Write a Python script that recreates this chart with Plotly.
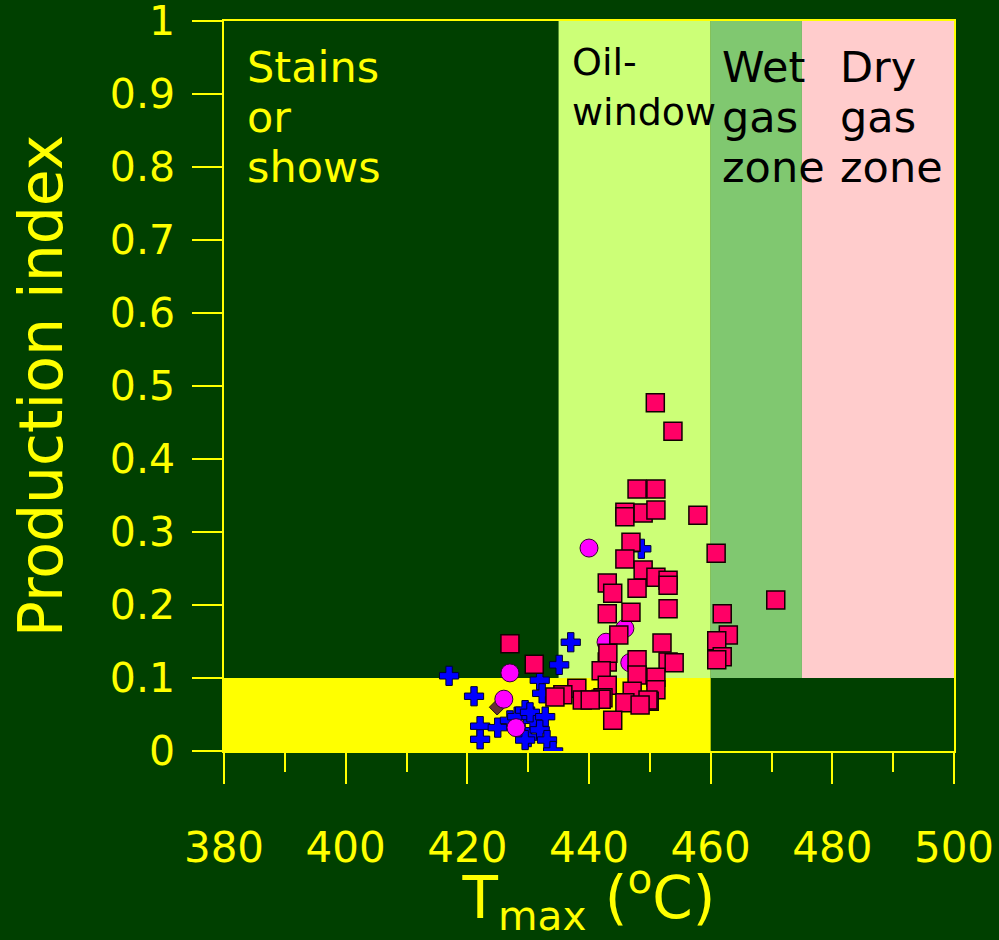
import plotly.graph_objects as go

# Tmax (degC) / production index
sq_tmax = [450.9, 453.8, 447.9, 451.0, 445.9, 445.9, 448.9, 451.0, 457.9, 446.9,
           460.9, 445.9, 448.9, 451.0, 453.0, 453.0, 443.0, 447.9, 443.9, 470.7,
           453.0, 443.0, 446.9, 461.9, 462.9, 461.0, 444.9, 452.0, 461.9, 461.0,
           453.0, 454.0, 447.9, 443.0, 443.1, 442.0, 447.9, 451.0, 451.0, 443.0,
           447.1, 449.9, 445.9, 443.9, 442.3, 438.0, 435.7, 438.9, 442.0, 449.7,
           434.4, 427.0, 431.0, 440.2, 448.4]
sq_pi = [0.477, 0.438, 0.359, 0.359, 0.327, 0.321, 0.326, 0.330, 0.323, 0.286,
         0.271, 0.263, 0.248, 0.238, 0.234, 0.227, 0.230, 0.223, 0.216, 0.207,
         0.195, 0.188, 0.190, 0.188, 0.159, 0.151, 0.159, 0.148, 0.129, 0.125,
         0.122, 0.121, 0.125, 0.122, 0.134, 0.110, 0.104, 0.101, 0.084, 0.090,
         0.082, 0.068, 0.066, 0.042, 0.073, 0.086, 0.077, 0.070, 0.071, 0.070,
         0.074, 0.147, 0.119, 0.070, 0.063]

circ_tmax = [440.0, 442.8, 445.9, 446.7, 427.0, 426.0, 428.0]
circ_pi = [0.278, 0.149, 0.168, 0.121, 0.107, 0.071, 0.032]

cross_tmax = [417.0, 421.1, 422.1, 422.1, 425.0, 427.0, 428.2, 429.0, 430.0, 430.8,
              429.5, 430.3, 431.9, 432.3, 432.8, 431.9, 433.1, 434.1, 435.1, 437.0,
              429.5, 448.6]
cross_pi = [0.103, 0.075, 0.034, 0.016, 0.032, 0.042, 0.047, 0.026, 0.019, 0.042,
            0.056, 0.053, 0.097, 0.079, 0.047, 0.029, 0.015, 0.0, 0.118, 0.149,
            0.015, 0.277]

dia_tmax = [424.9]
dia_pi = [0.060]

# maturity zones: edges in Tmax, PI threshold
zone_edges = [380, 435, 460, 475, 500]
zone_colors = ["#004000", "#CCFF77", "#80C870", "#FFCCCC"]
pi_cut = 0.1

y_ticks = [0, 0.1, 0.2, 0.3, 0.4, 0.5, 0.6, 0.7, 0.8, 0.9, 1]
x_ticks = [380, 400, 420, 440, 460, 480, 500]

bg = "#004000"
yellow = "#FFFF00"

fig = go.Figure()

fig.add_trace(go.Scatter(x=dia_tmax, y=dia_pi, mode="markers",
                         marker=dict(symbol="diamond", size=12, color="#663333",
                                     line=dict(color="#221111", width=1))))
fig.add_trace(go.Scatter(x=cross_tmax, y=cross_pi, mode="markers",
                         marker=dict(symbol="cross", size=16, color="#0000FF",
                                     line=dict(color="#000033", width=1))))
fig.add_trace(go.Scatter(x=circ_tmax, y=circ_pi, mode="markers",
                         marker=dict(symbol="circle", size=18, color="#FF00FF",
                                     line=dict(color="#330033", width=1))))
fig.add_trace(go.Scatter(x=sq_tmax, y=sq_pi, mode="markers",
                         marker=dict(symbol="square", size=18, color="#FF0066",
                                     line=dict(color="#110000", width=1.5))))

# background zones
for i in range(len(zone_colors)):
    fig.add_shape(type="rect", layer="below", line_width=0,
                  x0=zone_edges[i], x1=zone_edges[i + 1], y0=pi_cut, y1=1,
                  fillcolor=zone_colors[i])
fig.add_shape(type="rect", layer="below", line_width=0,
              x0=zone_edges[0], x1=zone_edges[2], y0=0, y1=pi_cut,
              fillcolor=yellow)

# zone labels
labels = [
    (383.4, ["Stains", "or", "shows"], yellow, 43),
    (436.9, ["Oil-", "window"], "black", 38),
    (461.5, ["Wet", "gas", "zone"], "black", 43),
    (480.9, ["Dry", "gas", "zone"], "black", 43),
]
line_y = [0.937, 0.868, 0.800]
for x, lines, col, sz in labels:
    for j, t in enumerate(lines):
        ly = line_y[j] if len(lines) == 3 else [0.944, 0.875][j]
        fig.add_annotation(x=x, y=ly, text=t, showarrow=False,
                           xanchor="left", yanchor="middle",
                           font=dict(size=sz, color=col, family="DejaVu Sans"))

fig.update_layout(
    width=999, height=940,
    paper_bgcolor=bg, plot_bgcolor=bg,
    showlegend=False,
    font=dict(family="DejaVu Sans", color=yellow),
    margin=dict(l=224, r=45, t=21, b=189),
)

fig.update_xaxes(
    range=[380, 500], tickvals=x_ticks, automargin=False,
    ticks="outside", ticklen=31, tickcolor=yellow, tickwidth=1.5,
    minor=dict(dtick=10, ticks="outside", ticklen=19, tickcolor=yellow, tickwidth=1.5),
    showline=True, linecolor=yellow, linewidth=1.5, mirror=True,
    showgrid=False, zeroline=False,
    tickfont=dict(size=42, color=yellow), ticklabelstandoff=28,
    ticklabeloverflow="allow",
    title=dict(text="T<sub>max</sub> (<sup>o</sup>C)", font=dict(size=58, color=yellow),
               standoff=8),
)
fig.update_yaxes(
    range=[0, 1], tickvals=y_ticks, automargin=False,
    ticks="outside", ticklen=30, tickcolor=yellow, tickwidth=1.5,
    showline=True, linecolor=yellow, linewidth=1.5, mirror=True,
    showgrid=False, zeroline=False,
    tickfont=dict(size=41, color=yellow), ticklabelstandoff=9,
    ticklabeloverflow="allow",
    title=dict(text="Production index", font=dict(size=60, color=yellow),
               standoff=28),
)

fig.write_html("out.html", config={"displayModeBar": False},
               post_script="document.body.style.margin='0';")
